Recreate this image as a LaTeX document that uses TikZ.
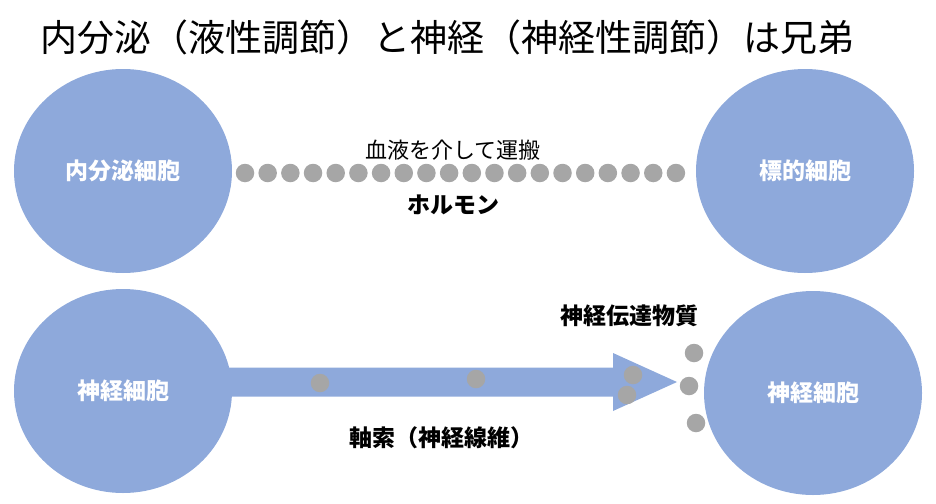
\documentclass[tikz,border=0pt]{standalone}
\usepackage{fontspec}
\setmainfont{Noto Sans CJK JP}
\usetikzlibrary{shapes.geometric,positioning,backgrounds}
\definecolor{cellblue}{RGB}{142,169,219}
\definecolor{vesiclegray}{RGB}{166,166,166}

\begin{document}
\begin{tikzpicture}[x=1pt, y=-1pt,
  cell/.style={ellipse, fill=cellblue, minimum width=218pt, minimum height=204pt, inner sep=0pt, text=white, font=\fontsize{23}{27}\selectfont\bfseries},
  vesicle/.style={circle, fill=vesiclegray, minimum size=18.5pt, inner sep=0pt},
  caption/.style={inner sep=0pt, font=\fontsize{23}{27}\selectfont\bfseries}]
  \useasboundingbox (0,0) rectangle (936,503);

  \node[anchor=west, inner sep=0pt] (title) at (40,37) {\fontsize{37}{43}\selectfont 内分泌（液性調節）と神経（神経性調節）は兄弟};

  \node[cell] (endocrine) at (123,171) {内分泌細胞};
  \node[cell] (target) at (805,171) {標的細胞};
  \node[cell] (neuronA) at (123,391) {神経細胞};
  \node[cell] (neuronB) at (813,393) {神経細胞};

  % Hormone carried in the blood
  \foreach \i in {0,...,19}
    \node[vesicle] (h\i) at (245+22.68*\i,173) {};
  \node[caption, font=\fontsize{22}{26}\selectfont] (blood) at (453,150) {血液を介して運搬};
  \node[caption] (hormone) at (453,205) {ホルモン};

  % Axon
  \coordinate (synapse) at (677,382);
  \begin{scope}[on background layer]
    \fill[cellblue] ([yshift=14.5pt]neuronA.center |- synapse) -- ([xshift=-64pt,yshift=14.5pt]synapse)
      -- ([xshift=-64pt,yshift=29pt]synapse) -- (synapse)
      -- ([xshift=-64pt,yshift=-29pt]synapse) -- ([xshift=-64pt,yshift=-14.5pt]synapse)
      -- ([yshift=-14.5pt]neuronA.center |- synapse) -- cycle;
  \end{scope}
  \node[vesicle] (v1) at (320,383) {};
  \node[vesicle] (v2) at (476,379) {};
  \node[vesicle] (v3) at (633,375) {};
  \node[vesicle] (v4) at (627,395) {};
  \node[vesicle] (v5) at (694,353) {};
  \node[vesicle] (v6) at (689,386) {};
  \node[vesicle] (v7) at (696,423) {};
  \node[caption] (transmitter) at (629,316) {神経伝達物質};
  \node[caption] (axon) at (441,438) {軸索（神経線維）};
\end{tikzpicture}
\end{document}
